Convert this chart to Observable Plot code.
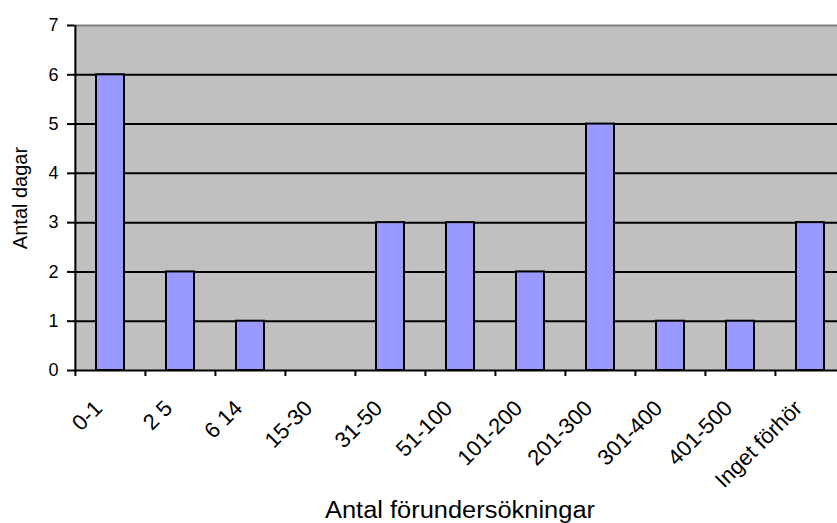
<!DOCTYPE html>
<html>
<head>
<meta charset="utf-8">
<script src="https://cdn.jsdelivr.net/npm/d3@7"></script>
<script src="https://cdn.jsdelivr.net/npm/@observablehq/plot@0.6"></script>
<style>
  html, body { margin: 0; padding: 0; background: white; overflow: hidden; }
  #chart svg { overflow: visible; }
</style>
</head>
<body>
<div id="chart"></div>
<script>
const categories = ["0-1", "2 5", "6 14", "15-30", "31-50", "51-100", "101-200", "201-300", "301-400", "401-500", "Inget förhör"];
const values = [6, 2, 1, 0, 3, 3, 2, 5, 1, 1, 3];
const yTicks = [0, 1, 2, 3, 4, 5, 6, 7];
const xTitle = "Antal förundersökningar";
const yTitle = "Antal dagar";

const data = categories.map((c, i) => ({cat: c, value: values[i]}));
const step = (846 - 74) / categories.length;

const chart = Plot.plot({
  width: 837,
  height: 523,
  marginTop: 25,
  marginBottom: 153,
  marginLeft: 74,
  marginRight: 0,
  style: {fontFamily: "'Liberation Sans', Arial, sans-serif", fontSize: "18px", background: "white", overflow: "visible"},
  x: {domain: categories, range: [74, 846], paddingInner: 0.6, paddingOuter: 0.3, axis: null, label: null},
  y: {domain: [0, 7], axis: null, label: null},
  marks: [
    Plot.frame({fill: "#c0c0c0", stroke: null}),
    Plot.ruleY(yTicks.filter(t => t > 0 && t < 7), {stroke: "black", strokeWidth: 2}),
    Plot.ruleY([7], {stroke: "#808080", strokeWidth: 2}),
    Plot.barY(data.filter(d => d.value > 0), {x: "cat", y: "value", fill: "#9999ff", stroke: "black", strokeWidth: 2}),
    Plot.ruleY([0], {stroke: "black", strokeWidth: 2}),
    Plot.ruleX([categories[0]], {x: d => d, dx: -step / 2, y1: 0, y2: 7, stroke: "black", strokeWidth: 2}),
    Plot.axisY({ticks: yTicks, tickFormat: () => "", label: null, tickSize: 7, strokeWidth: 2}),
    Plot.text(yTicks, {y: d => d, frameAnchor: "left", textAnchor: "end", lineAnchor: "middle", dx: -16, fontSize: 18, fill: "black"}),
    Plot.axisX({tickSize: 6, tickFormat: () => "", label: null, dx: -step / 2, strokeWidth: 2}),
    Plot.text(categories, {x: d => d, frameAnchor: "bottom", rotate: -45, textAnchor: "end", lineAnchor: "top", dx: -18, dy: 28, fontSize: 22, fill: "black"}),
    Plot.text([xTitle], {frameAnchor: "bottom", textAnchor: "middle", lineAnchor: "bottom", dx: 4, dy: 147, fontSize: 23, fill: "black"}),
    Plot.text([yTitle], {frameAnchor: "left", textAnchor: "middle", rotate: -90, dx: -54, fontSize: 20, fill: "black"})
  ]
});
d3.select(chart).selectAll("text")
  .filter(function() { return this.textContent === xTitle; })
  .attr("textLength", 270)
  .attr("lengthAdjust", "spacingAndGlyphs");
document.getElementById("chart").appendChild(chart);
</script>
</body>
</html>
